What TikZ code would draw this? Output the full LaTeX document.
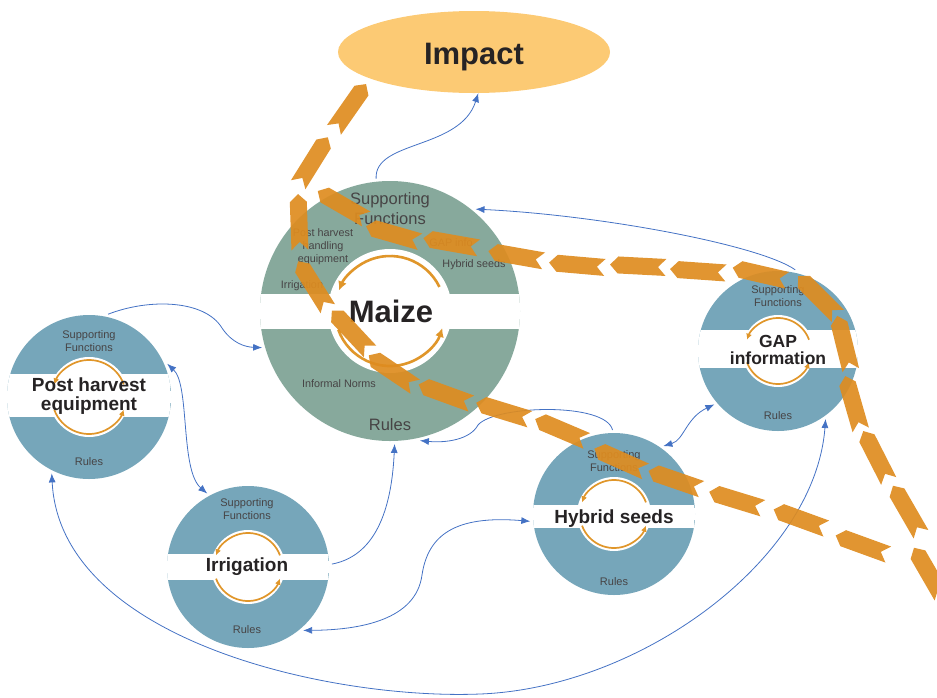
\documentclass[tikz,border=0pt]{standalone}
\usepackage{fontspec}
\setmainfont{Liberation Sans}
\usetikzlibrary{shapes.geometric, arrows.meta}

\definecolor{maizering}{HTML}{87A99C}
\definecolor{ringblue}{HTML}{76A6BA}
\definecolor{impactfill}{HTML}{FCCA74}
\definecolor{looporange}{HTML}{E0962A}
\definecolor{chevorange}{HTML}{DE8C20}
\definecolor{linkblue}{HTML}{4472C4}
\definecolor{ink}{HTML}{262324}

\tikzset{
  ring/.style={circle, inner sep=0pt, outer sep=3pt, draw=none},
  link/.style={draw=linkblue, line width=0.8pt, >={Latex[length=9pt,width=7pt]}},
  cyclearc/.style={draw=looporange, line width=1.7pt, -{Latex[length=6pt,width=6pt]}},
  chev/.style={fill=chevorange, fill opacity=0.92},
  syslabel/.style={font=\bfseries\fontsize{19}{18.5}\selectfont, text=ink, align=center, inner sep=0pt},
  smalltext/.style={font=\fontsize{11}{13}\selectfont, text=ink!85, align=center, inner sep=0pt},
}

\begin{document}
\begin{tikzpicture}[x=1pt,y=-1pt]
\useasboundingbox (0,0) rectangle (937,697);

% Impact
\node[ellipse, fill=impactfill, minimum width=272, minimum height=82, inner sep=0pt] (impact) at (474,52) {};
\node[anchor=base, font=\bfseries\fontsize{31}{31}\selectfont, text=ink] (impactlabel) at (474,64) {Impact};

% Maize system
\node[ring, fill=maizering, minimum size=260] (maize) at (390,311) {};
\begin{scope}
  \clip (390,311) circle (130);
  \fill[white] (250,294) rectangle (530,329);
\end{scope}
\fill[white] (390,311) circle (62);
\draw[cyclearc, line width=2.6pt, -{Latex[length=9pt,width=9pt]}] (390,311) ++(-26:55) arc(-26:-158:55);
\draw[cyclearc, line width=2.6pt, -{Latex[length=9pt,width=9pt]}] (390,311) ++(160:55) arc(160:18:55);
\node[anchor=base, font=\bfseries\fontsize{31}{31}\selectfont, text=ink] (maizelabel) at (391,322) {Maize};
\node[smalltext, font=\fontsize{16.5}{20}\selectfont] (maizesupp) at (390,209) {Supporting\\Functions};
\node[anchor=base, smalltext, font=\fontsize{16.5}{20}\selectfont] (maizerules) at (390,430) {Rules};
\node[smalltext, font=\fontsize{10.8}{13}\selectfont] (maizepost) at (323,247) {Post harvest\\handling\\equipment};
\node[anchor=base, smalltext, font=\fontsize{10.8}{13}\selectfont] (maizeirr) at (302,288) {Irrigation};
\node[anchor=base, smalltext, font=\fontsize{10.8}{13}\selectfont] (maizegap) at (451,246) {GAP info};
\node[anchor=base, smalltext, font=\fontsize{10.8}{13}\selectfont] (maizehyb) at (474,267) {Hybrid seeds};
\node[anchor=base, smalltext, font=\fontsize{10.8}{13}\selectfont] (maizenorms) at (339,387) {Informal Norms};

% the four smaller systems
\foreach \nm/\cx/\cy/\rr/\hr/\bt/\bb in {ph/89/397/82/40/374/417, gap/778/351/80/36/330/368, hyb/614/514/81/37/505/528, irr/248/567/81/37/554/580} {
  \node[ring, fill=ringblue, minimum size=2*\rr] (\nm) at (\cx,\cy) {};
  \begin{scope}
    \clip (\cx,\cy) circle (\rr);
    \fill[white] (\cx-\rr,\bt) rectangle (\cx+\rr,\bb);
  \end{scope}
  \fill[white] (\cx,\cy) circle (\hr);
  \draw[cyclearc] (\cx,\cy) ++(-20:\hr-3) arc(-20:-160:\hr-3);
  \draw[cyclearc] (\cx,\cy) ++(160:\hr-3) arc(160:20:\hr-3);
}

% labels of the smaller systems
\node[syslabel] (phlabel) at (89,396) {Post harvest\\equipment};
\node[syslabel, font=\bfseries\fontsize{17.5}{16.5}\selectfont] (gaplabel) at (778,350) {GAP\\information};
\node[syslabel, anchor=base] (hyblabel) at (614,523) {Hybrid seeds};
\node[syslabel, anchor=base] (irrlabel) at (247,571) {Irrigation};

\node[smalltext] (phsupp) at (89,341) {Supporting\\Functions};
\node[smalltext] (gapsupp) at (778,296) {Supporting\\Functions};
\node[smalltext] (hybsupp) at (614,461) {Supporting\\Functions};
\node[smalltext] (irrsupp) at (247,509) {Supporting\\Functions};
\node[smalltext, anchor=base] (phrules) at (89,465) {Rules};
\node[smalltext, anchor=base] (gaprules) at (778,419) {Rules};
\node[smalltext, anchor=base] (hybrules) at (614,585) {Rules};
\node[smalltext, anchor=base] (irrrules) at (247,633) {Rules};

% links between systems
\draw[link, ->] (maize.96) .. controls (374,140) and (460,150) .. (impact.-84);
\draw[link, ->] (gap.78) .. controls (760,245) and (600,215) .. (maize.50);
\draw[link, ->] (hyb.91) .. controls (606,402) and (495,405) .. (478,425) .. controls (470,440) and (445,443) .. (maize.-77);
\draw[link, ->] (irr.2) .. controls (380,555) and (392,500) .. (maize.-88);
\draw[link, ->] (ph.77) .. controls (150,298) and (205,300) .. (222,328) .. controls (232,343) and (245,347) .. (maize.196);
\draw[link, <->] (ph.23) .. controls (190,385) and (180,470) .. (irr.119);
\draw[link, <->] (hyb.185) .. controls (455,515) and (428,535) .. (422,575) .. controls (416,620) and (360,630) .. (irr.-49);
\draw[link, <->] (hyb.54) .. controls (684,440) and (686,418) .. (gap.220);
\draw[link, <->] (ph.-116) .. controls (60,640) and (330,700) .. (480,694) .. controls (640,688) and (815,560) .. (gap.-55);

% dashed impact pathways (chevrons)
\foreach \px/\py/\a in {928/572/120, 907/510/120, 876/456/117, 853/403/106, 844/343/104, 818/296/135, 760/274/167, 698/271/176, 638/266/177, 577/265/175, 516/256/170, 451/243/170, 393/234/164, 342/205/150,
  862/545/160, 800/519/160, 736/500/163, 675/480/161, 620/460/156, 561/430/157, 503/411/163, 445/394/160, 392/371/146, 351/331/133, 313/285/122, 299/222/92, 313/161/58, 350/107/55}
  \fill[chev, shift={(\px,\py)}, rotate=\a] (-28pt,-8.5pt) -- (20pt,-8.5pt) -- (28pt,0pt) -- (20pt,8.5pt) -- (-28pt,8.5pt) -- (-20pt,0pt) -- cycle;
\end{tikzpicture}
\end{document}
